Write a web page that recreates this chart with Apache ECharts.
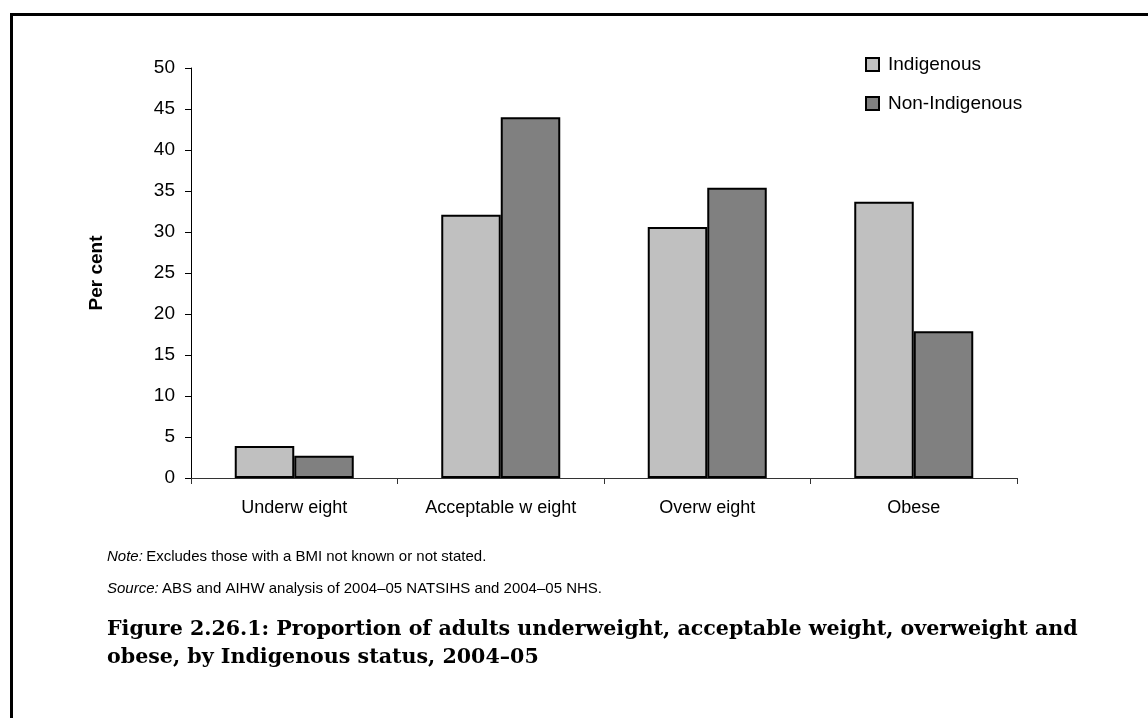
<!DOCTYPE html>
<html>
<head>
<meta charset="utf-8">
<script src="https://cdn.jsdelivr.net/npm/echarts@6/dist/echarts.min.js"></script>
<style>
  html, body { margin: 0; padding: 0; background: #fff; }
  #chart { width: 1148px; height: 718px; }
</style>
</head>
<body>
<div id="chart"></div>
<script>
const categories = ['Underw eight', 'Acceptable w eight', 'Overw eight', 'Obese'];
const indigenous = [3.9, 32.1, 30.6, 33.7];
const nonIndigenous = [2.7, 44.0, 35.4, 17.9];
const yTicks = { min: 0, max: 50, interval: 5 };
const yAxisName = 'Per cent';
const noteText = 'Excludes those with a BMI not known or not stated.';
const sourceText = 'ABS and AIHW analysis of 2004\u201305 NATSIHS and 2004\u201305 NHS.';
const titleLines = ['Figure 2.26.1: Proportion of adults underweight, acceptable weight, overweight and',
                    'obese, by Indigenous status, 2004\u201305'];

const chart = echarts.init(document.getElementById('chart'), null, { renderer: 'canvas' });
const sans = 'Liberation Sans, Arial, sans-serif';
const option = {
  backgroundColor: '#fff',
  animation: false,
  grid: { left: 191, right: 131, top: 68, bottom: 240, containLabel: false },
  legend: {
    orient: 'vertical',
    left: 865,
    top: 55,
    padding: 0,
    itemWidth: 13,
    itemHeight: 13,
    itemGap: 20,
    icon: 'rect',
    textStyle: { fontFamily: sans, fontSize: 19, color: '#000', padding: [0, 0, 0, 4] },
    data: ['Indigenous', 'Non-Indigenous']
  },
  xAxis: {
    type: 'category',
    data: categories,
    boundaryGap: true,
    axisLine: { lineStyle: { color: '#333', width: 1 } },
    axisTick: { show: true, length: 6, lineStyle: { color: '#333' } },
    axisLabel: { fontFamily: sans, fontSize: 18, color: '#000', margin: 21 }
  },
  yAxis: {
    type: 'value',
    min: yTicks.min,
    max: yTicks.max,
    interval: yTicks.interval,
    name: yAxisName,
    nameLocation: 'middle',
    nameGap: 85,
    nameRotate: 90,
    nameTextStyle: { fontFamily: sans, fontSize: 19, fontWeight: 'bold', color: '#000' },
    axisLine: { show: true, lineStyle: { color: '#000', width: 1 } },
    axisTick: { show: true, length: 6, lineStyle: { color: '#000' } },
    splitLine: { show: false },
    axisLabel: { fontFamily: sans, fontSize: 19, color: '#000', margin: 16 }
  },
  series: [
    {
      name: 'Indigenous', type: 'bar', data: indigenous,
      barWidth: 59.5, barGap: '0%',
      itemStyle: { color: '#C0C0C0', borderColor: '#000', borderWidth: 2 }
    },
    {
      name: 'Non-Indigenous', type: 'bar', data: nonIndigenous,
      barWidth: 59.5, barGap: '0%',
      itemStyle: { color: '#808080', borderColor: '#000', borderWidth: 2 }
    }
  ],
  graphic: [
    {
      type: 'rect', left: 9, top: 12, z: 100, silent: true,
      shape: { width: 1200, height: 800 },
      style: { fill: 'none', stroke: '#000', lineWidth: 3 }
    },
    {
      type: 'text', left: 107, top: 549,
      style: {
        text: '{i|Note:} {n|' + noteText + '}',
        rich: {
          i: { fontFamily: sans, fontSize: 15, fontStyle: 'italic', fill: '#000' },
          n: { fontFamily: sans, fontSize: 15, fill: '#000' }
        }
      }
    },
    {
      type: 'text', left: 107, top: 581,
      style: {
        text: '{i|Source:} {n|' + sourceText + '}',
        rich: {
          i: { fontFamily: sans, fontSize: 15, fontStyle: 'italic', fill: '#000' },
          n: { fontFamily: sans, fontSize: 15, fill: '#000' }
        }
      }
    },
    {
      type: 'text', left: 107, top: 616,
      style: {
        text: titleLines.join('\n'),
        font: 'bold 20.6px "DejaVu Serif", serif',
        lineHeight: 28,
        fill: '#000'
      }
    }
  ]
};
chart.setOption(option);
</script>
</body>
</html>
